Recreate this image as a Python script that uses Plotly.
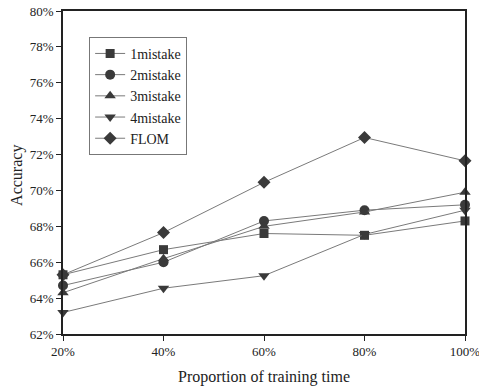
import plotly.graph_objects as go

x_vals = [20, 40, 60, 80, 100]
series_names = ["1mistake", "2mistake", "3mistake", "4mistake", "FLOM"]
mistake1 = [65.3, 66.7, 67.6, 67.5, 68.3]
mistake2 = [64.7, 66.0, 68.3, 68.9, 69.2]
mistake3 = [64.3, 66.2, 68.0, 68.8, 69.9]
mistake4 = [63.2, 64.55, 65.25, 67.55, 68.9]
flom = [65.3, 67.65, 70.45, 72.95, 71.65]
y_ticks = [62, 64, 66, 68, 70, 72, 74, 76, 78, 80]
y_labels = [f"{v}%" for v in y_ticks]
x_ticks = [20, 40, 60, 80, 100]
x_labels = [f"{v}%" for v in x_ticks]

symbols = ["square", "circle", "triangle-up", "triangle-down", "diamond"]
sizes = [9, 10, 10, 10, 10]
all_series = [mistake1, mistake2, mistake3, mistake4, flom]

font_family = "Liberation Serif"
fig = go.Figure()
for i in range(5):
    fig.add_trace(go.Scatter(
        x=x_vals, y=all_series[i], name=series_names[i], mode="lines+markers",
        line=dict(color="#7a7a7a", width=1),
        marker=dict(symbol=symbols[i], size=sizes[i], color="#3a3a3a"),
        cliponaxis=False,
    ))

fig.update_layout(
    width=479, height=392,
    margin=dict(l=63, r=14, t=11, b=58, autoexpand=False),
    paper_bgcolor="white", plot_bgcolor="white",
    font=dict(family=font_family, color="#222", size=12),
    showlegend=True,
    legend=dict(
        x=0.065, y=0.92, xanchor="left", yanchor="top",
        bordercolor="#777", borderwidth=1, bgcolor="white",
        font=dict(family=font_family, size=14, color="#222"),
        tracegroupgap=0, itemwidth=30,
    ),
    xaxis=dict(
        range=[20, 100], tickvals=x_ticks, ticktext=x_labels, automargin=False,
        ticklabeloverflow="allow",
        showline=True, linecolor="#222", linewidth=1.5, mirror=True,
        ticks="outside", ticklen=5, tickcolor="#222", showgrid=False, zeroline=False,
        tickfont=dict(size=13, family=font_family),
    ),
    yaxis=dict(
        range=[62, 80], tickvals=y_ticks, ticktext=y_labels, automargin=False,
        ticklabeloverflow="allow",
        showline=True, linecolor="#222", linewidth=1.5, mirror=True,
        ticks="outside", ticklen=5, tickcolor="#222", showgrid=False, zeroline=False,
        tickfont=dict(size=13, family=font_family),
    ),
    annotations=[
        dict(text="Proportion of training time", xref="paper", yref="paper",
             x=0.5, y=-0.133, xanchor="center", yanchor="middle", showarrow=False,
             font=dict(size=16, family=font_family, color="#222")),
        dict(text="Accuracy", xref="paper", yref="paper", textangle=-90,
             x=-0.114, y=0.49, xanchor="center", yanchor="middle", showarrow=False,
             font=dict(size=16, family=font_family, color="#222")),
    ],
)
fig.write_html("out.html", config={"displayModeBar": False},
               post_script="document.body.style.margin='0';")
